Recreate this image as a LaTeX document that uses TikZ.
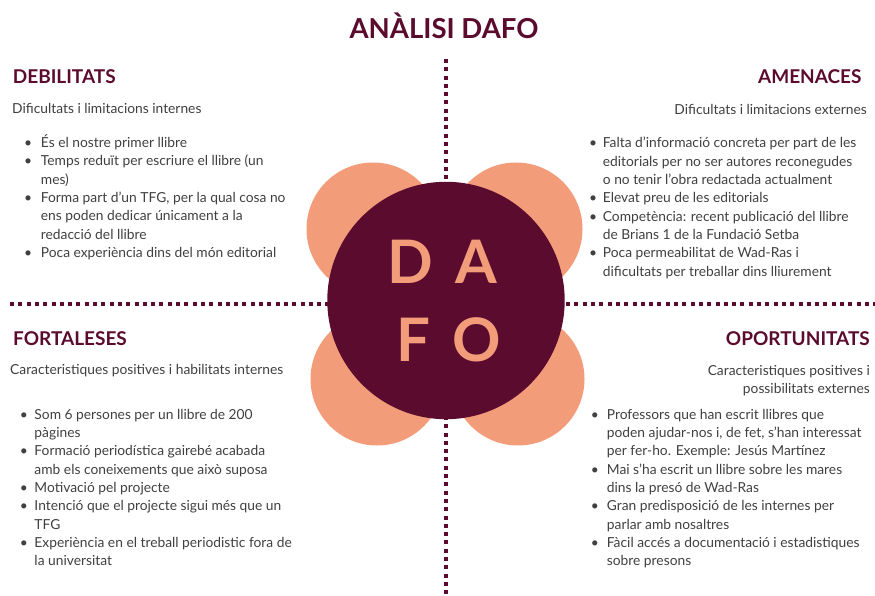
\documentclass[tikz,border=0pt]{standalone}
\usepackage{fontspec}
\setmainfont{Lato}
\usepackage{array}
\definecolor{maroon}{HTML}{5A0B2E}
\definecolor{peach}{HTML}{F29C7A}
\definecolor{txt}{HTML}{404040}
\newcommand\blst[2]{\begin{tabular}[t]{@{}p{#1}@{}l@{}}#2\end{tabular}}
\newcommand\bul{\textbullet}
\tikzset{
  dotline/.style={maroon, line width=4pt, dash pattern=on 4pt off 4.3pt},
  petal/.style={circle, fill=peach, inner sep=0pt, minimum size=133pt},
  core/.style={circle, fill=maroon, inner sep=0pt, minimum size=237.4pt},
  letter/.style={text=peach, font=\fontsize{60}{60}\selectfont\bfseries, inner sep=0pt, anchor=base},
  ttl/.style={text=maroon, font=\fontsize{27.5}{28}\selectfont\bfseries, inner sep=0pt, anchor=base},
  head/.style={text=maroon, font=\fontsize{19}{20}\selectfont\bfseries, inner sep=0pt},
  sub/.style={text=txt, font=\fontsize{13.8}{18.3}\selectfont, inner sep=0pt},
  blist/.style={text=txt, font=\fontsize{13.8}{18.3}\selectfont, inner sep=0pt, anchor=base west},
}
\begin{document}
\begin{tikzpicture}[x=1pt, y=-1pt]
\useasboundingbox (0,0) rectangle (875,596);
\fill[white] (0,0) rectangle (875,596);
% dotted axes
\coordinate (vt) at (446,59);
\coordinate (vb) at (446,596);
\coordinate (hl) at (10,304);
\coordinate (hr) at (875,304);
\draw[dotline] (vt) -- (vb);
\draw[dotline] (hl) -- (hr);
% petals and core
\node[petal] (ptl) at (373,229) {};
\node[petal] (ptr) at (516,229) {};
\node[petal] (pbl) at (377,379) {};
\node[petal] (pbr) at (518,379) {};
\node[core] (core) at (446,300.5) {};
\node[letter] (lD) at (410.5,283.3) {D};
\node[letter] (lA) at (476,283.3) {A};
\node[letter] (lF) at (413.5,361.7) {F};
\node[letter] (lO) at (476.5,361.7) {O};
% title
\node[ttl] (title) at (444,38.7) {ANÀLISI DAFO};
% DEBILITATS
\node[head, anchor=base west] (hD) at (12.7,83.3) {DEBILITATS};
\node[sub, anchor=base west] (sD) at (12,114) {Dificultats i limitacions internes};
\node[blist] (bD) at (24,147.7) {\blst{16.7pt}{%
\bul & És el nostre primer llibre\\
\bul & Temps reduït per escriure el llibre (un\\
 & mes)\\
\bul & Forma part d'un TFG, per la qual cosa no\\
 & ens poden dedicar únicament a la\\
 & redacció del llibre\\
\bul & Poca experiència dins del món editorial}};
% AMENACES
\node[head, anchor=base east] (hA) at (861.7,83.3) {AMENACES};
\node[sub, anchor=base east] (sA) at (867,114.5) {Dificultats i limitacions externes};
\node[blist] (bA) at (589,148) {\blst{13.7pt}{%
\bul & Falta d'informació concreta per part de les\\
 & editorials per no ser autores reconegudes\\
 & o no tenir l'obra redactada actualment\\
\bul & Elevat preu de les editorials\\
\bul & Competència: recent publicació del llibre\\
 & de Brians 1 de la Fundació Setba\\
\bul & Poca permeabilitat de Wad-Ras i\\
 & dificultats per treballar dins lliurement}};
% FORTALESES
\node[head, anchor=base west] (hF) at (13,345.7) {FORTALESES};
\node[sub, anchor=base west] (sF) at (10,374) {Caracteristiques positives i habilitats internes};
\node[blist] (bF) at (19.7,419.3) {\blst{14.6pt}{%
\bul & Som 6 persones per un llibre de 200\\
 & pàgines\\
\bul & Formació periodística gairebé acabada\\
 & amb els coneixements que això suposa\\
\bul & Motivació pel projecte\\
\bul & Intenció que el projecte sigui més que un\\
 & TFG\\
\bul & Experiència en el treball periodistic fora de\\
 & la universitat}};
% OPORTUNITATS
\node[head, anchor=base east] (hO) at (870,345.7) {OPORTUNITATS};
\node[sub, anchor=base east] (sO) at (870,375.5) {\begin{tabular}[t]{@{}r@{}}Caracteristiques positives i\\ possibilitats externes\end{tabular}};
\node[blist] (bO) at (590.7,419.3) {\blst{16pt}{%
\bul & Professors que han escrit llibres que\\
 & poden ajudar-nos i, de fet, s'han interessat\\
 & per fer-ho. Exemple: Jesús Martínez\\
\bul & Mai s'ha escrit un llibre sobre les mares\\
 & dins la presó de Wad-Ras\\
\bul & Gran predisposició de les internes per\\
 & parlar amb nosaltres\\
\bul & Fàcil accés a documentació i estadistiques\\
 & sobre presons}};
\end{tikzpicture}
\end{document}
